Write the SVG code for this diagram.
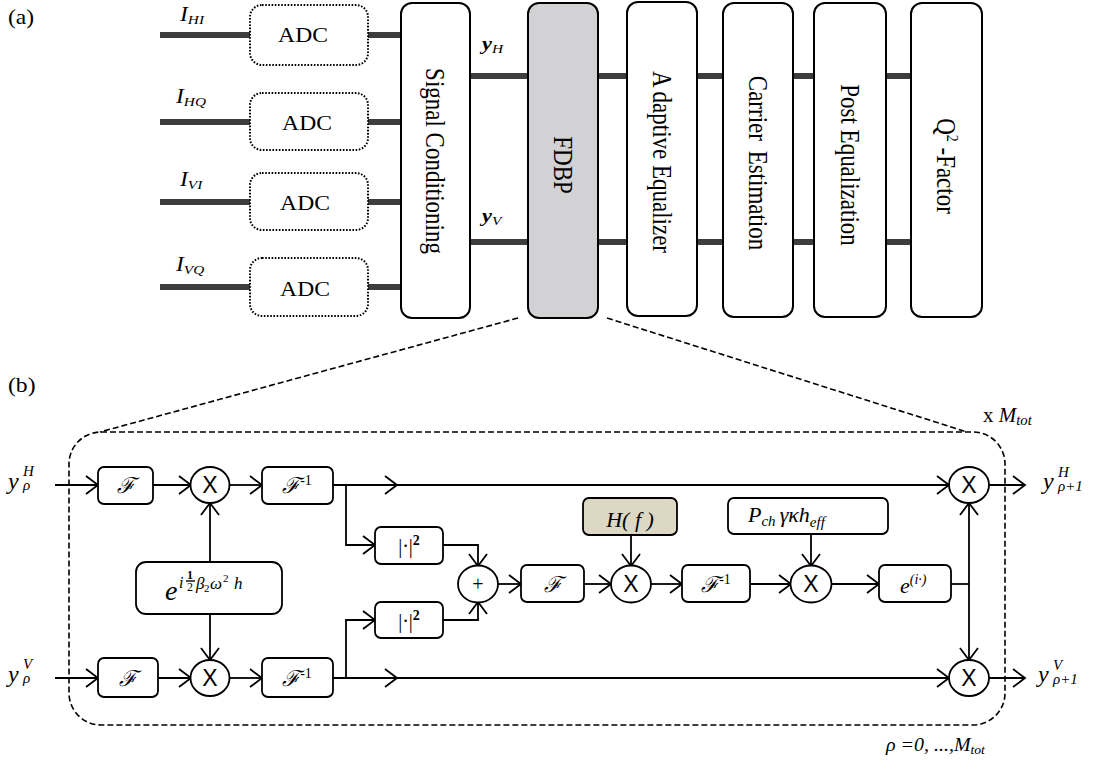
<svg xmlns="http://www.w3.org/2000/svg" width="1096" height="762" viewBox="0 0 1096 762">
<defs>
<marker id="arr" markerUnits="userSpaceOnUse" markerWidth="16" markerHeight="22" refX="13" refY="10" orient="auto">
<path d="M1,1 L13,10 L1,19" fill="none" stroke="#000" stroke-width="1.8"/>
</marker>
<style>
.bus{stroke:#3d3d3d;stroke-width:6;fill:none}
.adc{fill:#fff;stroke:#000;stroke-width:2;stroke-dasharray:1.6 1.6}
.blk{fill:#fff;stroke:#000;stroke-width:2}
.tm{font-family:"Liberation Serif","Times New Roman",serif;fill:#000}
.it{font-style:italic}
.w{stroke:#000;stroke-width:1.8;fill:none}
.wa{stroke:#000;stroke-width:1.8;fill:none;marker-end:url(#arr)}
.dash{stroke:#000;stroke-width:1.6;fill:none;stroke-dasharray:6 3}
.box{fill:#fff;stroke:#000;stroke-width:1.8}
.sans{font-family:"Liberation Sans",Arial,sans-serif;fill:#000}
.fr{font-family:"DejaVu Serif","Liberation Serif",serif;font-style:italic;fill:#000}
</style>
</defs>

<!-- (a) receiver chain; its lettering is drawn 1.18x wide -->
<text class="tm" font-size="20" transform="translate(8,24) scale(1.18,1)">(a)</text>

<g id="buses">
<path class="bus" d="M160,35 H250 M160,122 H250 M160,202 H250 M160,287 H250"/>
<path class="bus" d="M368,35 H401 M368,122 H401 M368,202 H401 M368,287 H401"/>
<path class="bus" d="M470,76 H528 M470,242 H528"/>
<path class="bus" d="M598,76 H627 M598,242 H627"/>
<path class="bus" d="M697,76 H723 M697,242 H723"/>
<path class="bus" d="M793,76 H814 M793,242 H814"/>
<path class="bus" d="M886,76 H911 M886,242 H911"/>
</g>

<g id="inputs-a" class="tm it">
<text font-size="20" transform="translate(180,21) scale(1.18,1)">I<tspan font-size="13" dy="3">HI</tspan></text>
<text font-size="20" transform="translate(176,103) scale(1.18,1)">I<tspan font-size="13" dy="3">HQ</tspan></text>
<text font-size="20" transform="translate(180,186) scale(1.18,1)">I<tspan font-size="13" dy="3">VI</tspan></text>
<text font-size="20" transform="translate(176,271) scale(1.18,1)">I<tspan font-size="13" dy="3">VQ</tspan></text>
</g>

<g id="adc1"><rect class="adc" x="250" y="5" width="118" height="60" rx="12"/><text class="tm" font-size="20" text-anchor="middle" transform="translate(303,42) scale(1.18,1)">ADC</text></g>
<g id="adc2"><rect class="adc" x="250" y="93" width="118" height="57" rx="12"/><text class="tm" font-size="20" text-anchor="middle" transform="translate(307,130) scale(1.18,1)">ADC</text></g>
<g id="adc3"><rect class="adc" x="250" y="173" width="118" height="57" rx="12"/><text class="tm" font-size="20" text-anchor="middle" transform="translate(305,210) scale(1.18,1)">ADC</text></g>
<g id="adc4"><rect class="adc" x="250" y="258" width="118" height="58" rx="12"/><text class="tm" font-size="20" text-anchor="middle" transform="translate(305,296) scale(1.18,1)">ADC</text></g>

<g id="signal-conditioning">
<rect class="blk" x="401" y="3" width="69" height="315" rx="11"/>
<text class="tm" font-size="23" text-anchor="middle" transform="translate(435.5,161) scale(1.15,1) rotate(90)" y="8">Signal Conditioning</text>
</g>
<text class="tm" font-size="19" transform="translate(482,50) scale(1.18,1)"><tspan font-weight="bold" font-style="italic">y</tspan><tspan font-style="italic" font-size="13" dy="3">H</tspan></text>
<text class="tm" font-size="19" transform="translate(482,222) scale(1.18,1)"><tspan font-weight="bold" font-style="italic">y</tspan><tspan font-style="italic" font-size="13" dy="3">V</tspan></text>

<g id="fdbp">
<rect x="528" y="3" width="70" height="315" rx="11" fill="#d2d1d3" stroke="#000" stroke-width="2"/>
<text class="tm" font-size="23" text-anchor="middle" transform="translate(563,165) scale(1.15,1) rotate(90)" y="8">FDBP</text>
</g>
<g id="adaptive-equalizer">
<rect class="blk" x="627" y="2" width="70" height="314" rx="11"/>
<text class="tm" font-size="23" text-anchor="middle" transform="translate(662,162) scale(1.15,1) rotate(90)" y="8">A<tspan dx="4">daptive Equalizer</tspan></text>
</g>
<g id="carrier-estimation">
<rect class="blk" x="723" y="3" width="70" height="314" rx="11"/>
<text class="tm" font-size="23" text-anchor="middle" transform="translate(758,163) scale(1.15,1) rotate(90)" y="8">Carrier <tspan dx="4">Estimation</tspan></text>
</g>
<g id="post-equalization">
<rect class="blk" x="814" y="3" width="72" height="314" rx="11"/>
<text class="tm" font-size="23" text-anchor="middle" transform="translate(850,165) scale(1.15,1) rotate(90)" y="8">Post Equalization</text>
</g>
<g id="q-factor">
<rect class="blk" x="911" y="3" width="71" height="314" rx="11"/>
<text class="tm" font-size="23" text-anchor="middle" transform="translate(946,166) scale(1.15,1) rotate(90)" y="8">Q<tspan font-size="14" dy="-9">2</tspan><tspan dy="9"> -Factor</tspan></text>
</g>

<!-- zoom lines from FDBP to the per-step block -->
<path class="dash" d="M518,318 L100,432 M607,318 L967,432"/>

<!-- (b) one back-propagation step -->
<text class="tm" font-size="20" transform="translate(8,392) scale(1.18,1)">(b)</text>
<rect class="dash" x="69" y="432" width="936" height="293" rx="32"/>
<text class="tm" font-size="20" transform="translate(983,422) scale(1.05,1)">x <tspan font-style="italic">M</tspan><tspan font-style="italic" font-size="14" dy="3">tot</tspan></text>
<text class="tm it" font-size="19" transform="translate(886,751) scale(1.05,1)">ρ =0, ...,M<tspan font-size="13" dy="3">tot</tspan></text>

<g id="connectors">
<!-- H branch -->
<path class="wa" d="M55,485 H98"/>
<path class="wa" d="M153,485 H191"/>
<path class="wa" d="M230,485 H262"/>
<path class="wa" d="M333,485 H949"/>
<path class="w" d="M385,476 L397,485 L385,494"/>
<!-- V branch -->
<path class="wa" d="M55,678 H98"/>
<path class="wa" d="M158,678 H191"/>
<path class="wa" d="M230,678 H262"/>
<path class="wa" d="M333,678 H949"/>
<path class="w" d="M385,669 L397,678 L385,687"/>
<!-- dispersion operator to both multipliers -->
<path class="wa" d="M210,562 V503"/>
<path class="wa" d="M210,614 V660"/>
<!-- power taps -->
<path class="wa" d="M346,485 V545 H375"/>
<path class="wa" d="M346,678 V620 H375"/>
<path class="wa" d="M443,545 H478 V566"/>
<path class="wa" d="M443,620 H478 V602"/>
<!-- nonlinear phase path -->
<path class="wa" d="M498,584 H521"/>
<path class="wa" d="M584,584 H611"/>
<path class="wa" d="M631,535 V566"/>
<path class="wa" d="M651,584 H682"/>
<path class="wa" d="M750,584 H791"/>
<path class="wa" d="M811,534 V566"/>
<path class="wa" d="M831,584 H879"/>
<path class="w" d="M951,584 H969"/>
<path class="wa" d="M969,584 V503"/>
<path class="wa" d="M969,584 V660"/>
<!-- outputs -->
<path class="wa" d="M989,485 H1025"/>
<path class="wa" d="M989,678 H1025"/>
</g>

<g id="in-h" class="tm it"><text x="8" y="489" font-size="24">y</text><text x="23" y="476" font-size="15">H</text><text x="23" y="490" font-size="15">ρ</text></g>
<g id="in-v" class="tm it"><text x="8" y="682" font-size="24">y</text><text x="23" y="669" font-size="15">V</text><text x="23" y="683" font-size="15">ρ</text></g>
<g id="out-h" class="tm it"><text x="1043" y="489" font-size="24">y</text><text x="1058" y="477" font-size="15">H</text><text x="1058" y="491" font-size="15">ρ+1</text></g>
<g id="out-v" class="tm it"><text x="1038" y="682" font-size="24">y</text><text x="1053" y="670" font-size="15">V</text><text x="1053" y="684" font-size="15">ρ+1</text></g>

<g id="fft-h"><rect class="box" x="98" y="467" width="55" height="37" rx="6"/><text class="fr" x="125.5" y="493" font-size="22" text-anchor="middle">ℱ</text></g>
<g id="mul-h"><ellipse class="box" cx="210" cy="485" rx="19.5" ry="18"/><text class="sans" x="210" y="493" font-size="23" text-anchor="middle">X</text></g>
<g id="ifft-h"><rect class="box" x="262" y="467" width="71" height="37" rx="6"/><text class="fr" x="297" y="493" font-size="22" text-anchor="middle">ℱ<tspan class="tm" font-style="normal" font-size="14" dy="-8">-1</tspan></text></g>

<g id="fft-v"><rect class="box" x="98" y="658" width="60" height="39" rx="6"/><text class="fr" x="128" y="686" font-size="22" text-anchor="middle">ℱ</text></g>
<g id="mul-v"><ellipse class="box" cx="210" cy="678" rx="19.5" ry="18"/><text class="sans" x="210" y="686" font-size="23" text-anchor="middle">X</text></g>
<g id="ifft-v"><rect class="box" x="262" y="658" width="71" height="39" rx="6"/><text class="fr" x="297" y="686" font-size="22" text-anchor="middle">ℱ<tspan class="tm" font-style="normal" font-size="14" dy="-8">-1</tspan></text></g>

<g id="dispersion">
<rect class="box" x="136" y="562" width="146" height="52" rx="10"/>
<text class="tm it" x="165" y="600" font-size="28">e</text>
<text class="tm it" x="179" y="588" font-size="16">i</text>
<text class="tm" x="190" y="579" font-size="12" font-weight="bold" text-anchor="middle">1</text>
<path d="M186,581 H195" stroke="#000" stroke-width="1.4"/>
<text class="tm" x="190" y="591" font-size="12" text-anchor="middle">2</text>
<text class="tm it" x="196" y="589" font-size="17">β</text>
<text class="tm" x="204" y="592" font-size="11">2</text>
<text class="tm it" x="210" y="589" font-size="17">ω</text>
<text class="tm" x="223" y="582" font-size="11">2</text>
<text class="tm it" x="234" y="589" font-size="17">h</text>
</g>

<g id="abs-h"><rect class="box" x="375" y="527" width="68" height="37" rx="6"/><text class="tm" x="409" y="553" font-size="20" text-anchor="middle">|·|<tspan font-weight="bold" font-size="14" dy="-8">2</tspan></text></g>
<g id="abs-v"><rect class="box" x="375" y="602" width="68" height="36" rx="6"/><text class="tm" x="409" y="628" font-size="20" text-anchor="middle">|·|<tspan font-weight="bold" font-size="14" dy="-8">2</tspan></text></g>
<g id="sum"><ellipse class="box" cx="478" cy="584" rx="20" ry="18.5"/><text class="tm" x="478" y="591" font-size="20" text-anchor="middle" fill="#333">+</text></g>
<g id="fft-p"><rect class="box" x="521" y="565" width="63" height="37" rx="6"/><text class="fr" x="552.5" y="592" font-size="22" text-anchor="middle">ℱ</text></g>
<g id="filter"><rect x="583" y="498" width="94" height="37" rx="6" fill="#dcd8c3" stroke="#000" stroke-width="1.8"/><text class="tm it" x="630" y="527" font-size="22" text-anchor="middle">H( f )</text></g>
<g id="mul-p"><ellipse class="box" cx="631" cy="584" rx="20" ry="18.5"/><text class="sans" x="631" y="592" font-size="23" text-anchor="middle">X</text></g>
<g id="ifft-p"><rect class="box" x="682" y="565" width="68" height="37" rx="6"/><text class="fr" x="716" y="592" font-size="22" text-anchor="middle">ℱ<tspan class="tm" font-style="normal" font-size="14" dy="-8">-1</tspan></text></g>
<g id="gain"><rect class="box" x="728" y="498" width="160" height="36" rx="6"/><text class="tm it" x="748" y="522" font-size="22">P<tspan font-size="15" dy="4">ch</tspan><tspan dx="4" dy="-4">γκh</tspan><tspan font-size="15" dy="5">eff</tspan></text></g>
<g id="mul-g"><ellipse class="box" cx="811" cy="584" rx="20.5" ry="18.5"/><text class="sans" x="811" y="592" font-size="23" text-anchor="middle">X</text></g>
<g id="phase"><rect class="box" x="879" y="565" width="72" height="37" rx="6"/><text class="tm it" x="900" y="593" font-size="22">e<tspan font-size="14" dy="-9">(i·)</tspan></text></g>
<g id="mul-out-h"><ellipse class="box" cx="969" cy="485" rx="20" ry="18"/><text class="sans" x="969" y="493" font-size="23" text-anchor="middle">X</text></g>
<g id="mul-out-v"><ellipse class="box" cx="969" cy="678" rx="20" ry="18"/><text class="sans" x="969" y="686" font-size="23" text-anchor="middle">X</text></g>
</svg>
